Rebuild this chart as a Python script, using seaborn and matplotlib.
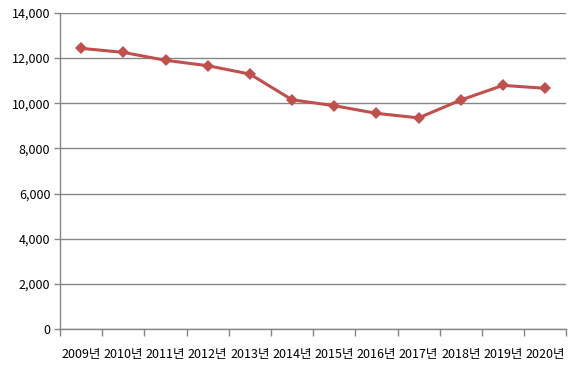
import matplotlib
matplotlib.use("Agg")
import matplotlib.pyplot as plt
import seaborn as sns
import pandas as pd
from matplotlib.ticker import FuncFormatter

# 연도별 값
years = ["2009년", "2010년", "2011년", "2012년", "2013년", "2014년",
         "2015년", "2016년", "2017년", "2018년", "2019년", "2020년"]
values = [12430, 12250, 11900, 11660, 11290, 10150,
          9890, 9550, 9350, 10140, 10790, 10660]

df = pd.DataFrame({"year": years, "value": values})

sns.set_style("white")
plt.rcParams["font.family"] = ["Noto Sans CJK KR", "DejaVu Sans"]

fig = plt.figure(figsize=(5.72, 3.68), dpi=100)
ax = fig.add_axes([0.105, 0.106, 0.885, 0.859])

sns.lineplot(data=df, x="year", y="value", ax=ax, color="#C0504D",
             linewidth=2.2, marker="D", markersize=6, markeredgewidth=0, sort=False)

ax.set_xlim(-0.5, len(years) - 0.5)
ax.set_ylim(0, 14000)
ax.set_yticks(range(0, 14001, 2000))
ax.yaxis.set_major_formatter(FuncFormatter(lambda v, p: f"{int(v):,}"))
ax.grid(axis="y", color="#868686", linewidth=1)
ax.set_axisbelow(True)

# 범주 경계에 눈금
ax.set_xticks([i - 0.5 for i in range(len(years) + 1)], minor=True)
ax.tick_params(axis="x", which="minor", length=5, width=1, color="#868686", direction="out", bottom=True)
ax.tick_params(axis="x", which="major", length=0, pad=14, labelsize=9, labelcolor="black")
ax.tick_params(axis="y", length=4, width=1, color="#868686", direction="out", left=True, pad=3, labelsize=9, labelcolor="black")

for s in ["top", "right"]:
    ax.spines[s].set_visible(False)
for s in ["left", "bottom"]:
    ax.spines[s].set_color("#868686")
    ax.spines[s].set_linewidth(1)

ax.set_xlabel("")
ax.set_ylabel("")

fig.savefig("out.png", dpi=100)
